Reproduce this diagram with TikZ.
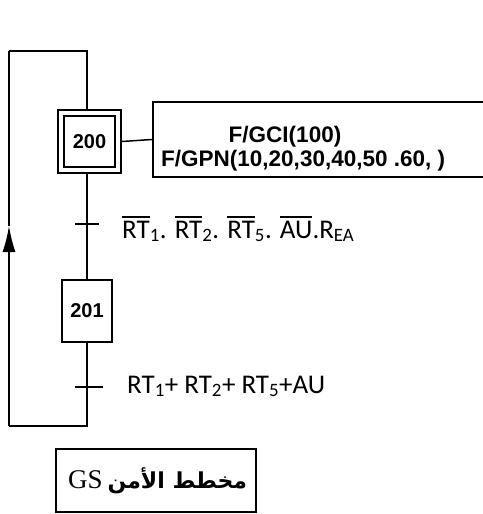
\documentclass[tikz,border=0pt]{standalone}
\usepackage{fontspec}
\setmainfont{Carlito}
\newfontfamily\actfont{Liberation Sans}
\newfontfamily\arabicfont[Script=Arabic]{DejaVu Sans}
\newfontfamily\gsfont{Liberation Serif}
\TeXXeTstate=1
\usetikzlibrary{arrows.meta}
\newcommand\myol[1]{\leavevmode\vbox{\hrule height 2.8pt\kern 2.2pt\hbox{#1}}}
\tikzset{
  ln/.style={line width=1.5pt},
  stepbox/.style={draw, line width=1.5pt, inner sep=0pt, fill=white},
  steptext/.style={font=\actfont\bfseries\fontsize{20}{20}\selectfont},
  lbl/.style={anchor=base west, inner sep=0pt, font=\fontsize{27}{27}\selectfont},
  acttext/.style={inner sep=0pt, font=\actfont\bfseries\fontsize{22.5}{22.5}\selectfont},
}
\begin{document}
\begin{tikzpicture}[x=1pt,y=-1pt]
\useasboundingbox (0,0) rectangle (482,514);
% coordinates
\coordinate (tl) at (9,51);
\coordinate (tm) at (87,51);
\coordinate (bl) at (9,426);
\coordinate (bm) at (87,426);
\coordinate (tip) at (9,226);
\coordinate (t1) at (87,224);
\coordinate (t2) at (87,387);
% step 200
\node[stepbox, minimum width=63pt, minimum height=63pt] (s200o) at (89.5,141.5) {};
\node[stepbox, minimum width=51pt, minimum height=51pt, steptext] (s200) at (89.5,141.5) {200};
% step 201
\node[stepbox, minimum width=50pt, minimum height=62pt, steptext] (s201) at (87,311) {201};
% action box
\node[draw, line width=1.5pt, anchor=west, minimum width=340pt, minimum height=75pt] (act) at (152,139.5) {};
\node[acttext, anchor=base] (a1) at (285,142) {F/GCI(100)};
\node[acttext, anchor=base west] (a2) at (161,166) {F/GPN(10,20,30,40,50 .60, )};
% links
\draw[ln] (tl) -- (tm) -- (s200o.north -| tm);
\draw[ln] (s200o.south -| tm) -- (s201.north);
\draw[ln] (s201.south) -- (bm) -- (bl);
\draw[ln] (s200o.east) -- (act.west);
\draw[ln, -{Latex[length=26pt,width=13pt]}] (bl) -- (tip);
\draw[ln] (tip) -- (tl);
% transitions
\draw[ln] ([xshift=-12pt]t1) -- ([xshift=12pt]t1);
\draw[ln] ([xshift=-12pt]t2) -- ([xshift=16pt]t2);
\node[lbl] (c1) at (122,238) {\myol{RT}\textsubscript{1}. \myol{RT}\textsubscript{2}. \myol{RT}\textsubscript{5}. \myol{AU}.R\textsubscript{EA}};
\node[lbl] (c2) at (127,393) {RT\textsubscript{1}+ RT\textsubscript{2}+ RT\textsubscript{5}+AU};
% title box
\node[draw, line width=1.5pt, minimum width=200pt, minimum height=63pt] (gs) at (156,480.5) {};
\node[inner sep=0pt] (gst) at (157.5,481) {\arabicfont\bfseries\fontsize{22}{22}\selectfont\beginR مخطط الأمن\hspace{5pt}\beginL{\gsfont\mdseries\fontsize{27}{27}\selectfont GS}\endL\endR};
\end{tikzpicture}
\end{document}
